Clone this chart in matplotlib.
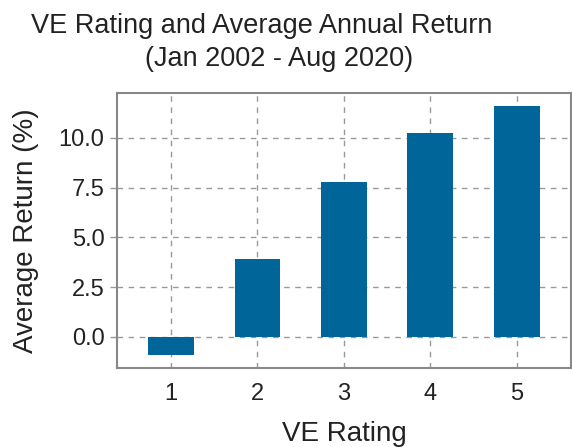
import matplotlib.pyplot as plt

ratings = [1, 2, 3, 4, 5]
avg_return = [-0.9, 3.92, 7.79, 10.25, 11.6]
yticks = [0.0, 2.5, 5.0, 7.5, 10.0]

plt.rcParams['font.family'] = ['Liberation Sans', 'DejaVu Sans']

fig = plt.figure(figsize=(5.72, 4.47), dpi=100)
ax = fig.add_axes([0.2045, 0.1767, 0.7935, 0.6153])
ax.set_axisbelow(True)
ax.bar(ratings, avg_return, width=0.53, color='#00669a', zorder=2)

ax.set_xlim(0.376, 5.624)
ax.set_ylim(-1.56, 12.26)
ax.set_xticks(ratings)
ax.set_yticks(yticks)
ax.set_yticklabels(['%.1f' % v for v in yticks])
ax.grid(True, color='#999999', linestyle=(0, (4, 4)), linewidth=1)
ax.tick_params(axis='x', length=0, pad=11, labelsize=17)
ax.tick_params(axis='y', length=5, width=1, color='#999999', pad=4, labelsize=17)
for lab in ax.get_xticklabels() + ax.get_yticklabels():
    lab.set_color('#222222')
for s in ax.spines.values():
    s.set_color('#888888')
    s.set_linewidth(1.5)

ax.set_xlabel('VE Rating', fontsize=20, labelpad=11, color='#222222')
ax.set_ylabel('Average Return (%)', fontsize=20, labelpad=14, color='#222222')
# two-line title
fig.text(0.458, 0.926, 'VE Rating and Average Annual Return',
         ha='center', va='baseline', fontsize=19.5, color='#222222')
fig.text(0.487, 0.852, '(Jan 2002 - Aug 2020)',
         ha='center', va='baseline', fontsize=19.5, color='#222222')

fig.savefig('out.png', dpi=100)
